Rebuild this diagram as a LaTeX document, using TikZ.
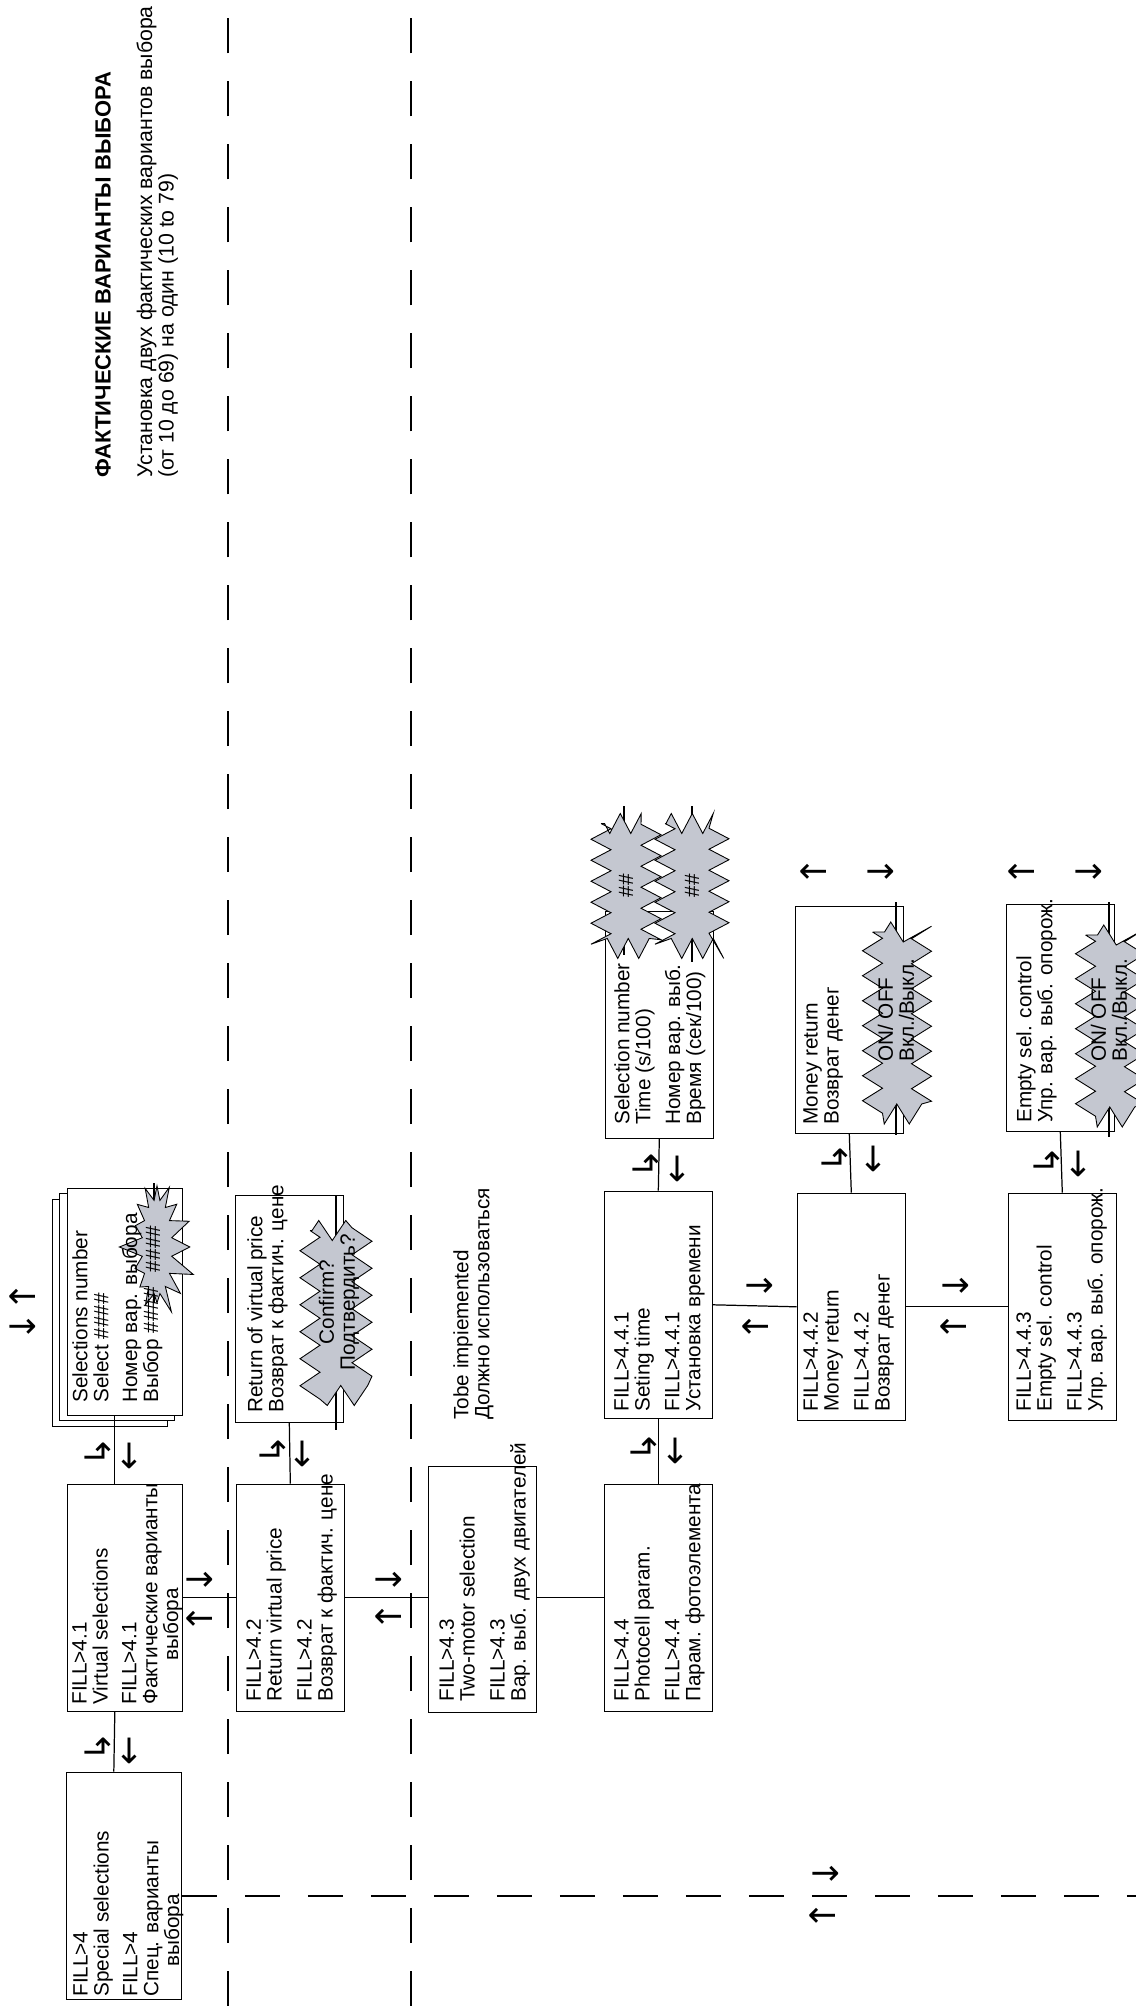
\documentclass[tikz,border=0pt]{standalone}
\usepackage{fontspec}
\setmainfont{Liberation Sans}
\newfontfamily\arrowfont{DejaVu Sans}
\usetikzlibrary{shapes.symbols, decorations.pathmorphing, arrows.meta, positioning}
\definecolor{burstgray}{RGB}{196,199,208}

\begin{document}
\begin{tikzpicture}[x=0.02cm, y=0.02cm,
  box/.style={rectangle, draw, fill=white, line width=0.8pt, minimum width=4.54cm, minimum height=#1, inner sep=0pt, anchor=south west},
  box/.default=2.16cm,
  txt/.style={anchor=north west, align=left, inner sep=0pt, font=\fontsize{11.8}{11.9}\selectfont},
  burst/.style={starburst, draw, fill=burstgray, line width=0.5pt, starburst points=16, starburst point height=0.5cm, random starburst=7, inner sep=0pt},
  jagged/.style={rectangle, draw, fill=burstgray, line width=0.5pt, inner sep=0pt, decorate, decoration={zigzag, segment length=#1, amplitude=0.2cm}},
  jagged/.default=0.52cm,
  bursttxt/.style={align=center, inner sep=0pt, font=\fontsize{11.8}{11.9}\selectfont},
  link/.style={line width=0.7pt},
  sepline/.style={line width=1pt, dash pattern=on 0.7cm off 0.56cm},
  arr/.style={font=\arrowfont\fontsize{20}{20}\selectfont, inner sep=0pt}]

  \useasboundingbox (0,0) rectangle (1136,2006);
  \begin{scope}[shift={(1136,0)}, rotate=90, transform shape]
  % separators
  \draw[sepline] (0,908) -- (2006,908);
  \draw[sepline] (0,725) -- (2006,725);

  % boxes
  \node[box=2.3cm] (fill4) at (6,954) {};
  \node[box=2.3cm] (fill41) at (294,953) {};
  \node[box=2.3cm] (selstack3) at (579,968) {};
  \node[box=2.3cm] (selstack2) at (585,961) {};
  \node[box=2.3cm] (selbox) at (590,953) {};
  \node[box] (fill42) at (294,791) {};
  \node[box] (retbox) at (583,792) {};
  \node[box, minimum width=4.92cm] (fill43) at (293,599) {};
  \node[box] (fill44) at (294,423) {};
  \node[box] (fill441) at (587,423) {};
  \node[box] (timebox) at (867,422) {};
  \node[box] (fill442) at (585,230) {};
  \node[box] (moneybox) at (872,232) {};
  \node[box] (fill443) at (585,19) {};
  \node[box] (emptybox) at (874,21) {};

  % value markers
  \draw[link] (703,982) -- (823,982);
  \draw[link] (576,800) -- (810,800);
  \draw[link] (1051,512) -- (1200,512);
  \draw[link] (1044,444) -- (1200,444);
  \draw[link] (871,240) -- (1104,240);
  \draw[link] (869,27) -- (1104,27);
  \node[burst, minimum width=2.9cm, minimum height=1.6cm] (selburst) at (759,979) {};
  \node[jagged=0.54cm, minimum width=3.3cm, minimum height=1.04cm] (confirmburst) at (693,800) {};
  \node[jagged=0.42cm, minimum width=2.5cm, minimum height=1cm] (timeburst1) at (1120,510) {};
  \node[jagged=0.42cm, minimum width=2.5cm, minimum height=1.08cm] (timeburst2) at (1120,444) {};
  \node[jagged=0.5cm, minimum width=3.64cm, minimum height=0.98cm] (moneyburst) at (983,239) {};
  \node[jagged=0.5cm, minimum width=3.64cm, minimum height=0.98cm] (emptyburst) at (980,26) {};
  \node[bursttxt] (seltag) at (757,983) {\#\#\#\#};
  \node[bursttxt] (confirmtxt) at (704,797) {Confirm?\\Подтвердить?};
  \node[bursttxt] (timetag1) at (1120,510) {\#\#};
  \node[bursttxt] (timetag2) at (1120,444) {\#\#};
  \node[bursttxt, align=left, anchor=west] (moneyon) at (944,240) {ON/ OFF\\Вкл./Выкл.};
  \node[bursttxt, align=left, anchor=west] (emptyon) at (944,27) {ON/ OFF\\Вкл./Выкл.};

  % box texts
  \node[txt] (fill4txt) at (9,1063) {FILL>4\\Special selections\\[0.16cm]FILL>4\\Спец. варианты\\\hspace*{0.6cm}выбора};
  \node[txt] (fill41txt) at (301,1064) {FILL>4.1\\Virtual selections\\[0.16cm]FILL>4.1\\Фактические варианты\\\hspace*{0.88cm}выбора};
  \node[txt] (seltxt) at (603,1064) {Selections number\\Select \#\#\#\#\\[0.16cm]Номер вар. выбора\\Выбор \#\#\#\#};
  \node[txt] (fill42txt) at (304,890) {FILL>4.2\\Return virtual price\\[0.18cm]FILL>4.2\\Возврат к фактич. цене};
  \node[txt] (rettxt) at (593,889) {Return of virtual price\\Возврат к фактич. цене};
  \node[txt] (fill43txt) at (304,697) {FILL>4.3\\Two-motor selection\\[0.18cm]FILL>4.3\\Вар. выб. двух двигателей};
  \node[txt] (tobetxt) at (586,683) {Tobe impiemented\\Должно использоваться};
  \node[txt] (fill44txt) at (304,522) {FILL>4.4\\Photocell param.\\[0.18cm]FILL>4.4\\Парам. фотоэлемента};
  \node[txt] (fill441txt) at (594,522) {FILL>4.4.1\\Seting time\\[0.18cm]FILL>4.4.1\\Установка времени};
  \node[txt] (timetxt) at (881,522) {Selection number\\Time (s/100)\\[0.18cm]Номер вар. выб.\\Время (сек/100)};
  \node[txt] (fill442txt) at (594,333) {FILL>4.4.2\\Money return\\[0.18cm]FILL>4.4.2\\Возврат денег};
  \node[txt] (moneytxt) at (881,333) {Money return\\Возврат денег};
  \node[txt] (fill443txt) at (594,120) {FILL>4.4.3\\Empty sel. control\\[0.18cm]FILL>4.4.3\\Упр. вар. выб. опорож.};
  \node[txt] (emptytxt) at (883,120) {Empty sel. control\\Упр. вар. выб. опорож.};

  % links
  \draw[link] (fill4.5) -- (fill41.175);
  \draw[link] (fill41.5) -- (selbox.175);
  \draw[link] (fill41.south) -- (fill42.north);
  \draw[link] (fill42.east) -- (retbox.west);
  \draw[link] (fill42.south) -- (fill42.south |- fill43.north);
  \draw[link] (fill44.north |- fill43.south) -- (fill44.north);
  \draw[link] (fill44.east) -- (fill441.west);
  \draw[link] (fill441.east) -- (timebox.west);
  \draw[link] (fill441.south) -- (fill442.north);
  \draw[link] (fill442.east) -- (moneybox.west);
  \draw[link] (fill442.south) -- (fill443.north);
  \draw[link] (fill443.east) -- (emptybox.west);
  \coordinate (pagebottom) at (110,0);
  \draw[sepline] (pagebottom |- fill4.south) -- (pagebottom);

  % key arrows
  \node[arr] (enterA) at (259,1038) {↳};
  \node[arr] (backA) at (255,1005) {←};
  \node[arr] (enterB) at (554,1038) {↳};
  \node[arr] (backB) at (550,1005) {←};
  \node[arr] (nextC) at (426,936) {↓};
  \node[arr] (prevC) at (387,936) {↑};
  \node[arr] (enterD) at (556,863) {↳};
  \node[arr] (backD) at (552,832) {←};
  \node[arr] (nextE) at (426,747) {↓};
  \node[arr] (prevE) at (389,747) {↑};
  \node[arr] (enterG) at (559,492) {↳};
  \node[arr] (backG) at (555,459) {←};
  \node[arr] (enterH) at (842,490) {↳};
  \node[arr] (backH) at (837,457) {←};
  \node[arr] (nextI) at (720,376) {↓};
  \node[arr] (prevI) at (679,380) {↑};
  \node[arr] (enterJ) at (848,301) {↳};
  \node[arr] (backJ) at (847,261) {←};
  \node[arr] (nextK) at (720,180) {↓};
  \node[arr] (prevK) at (679,182) {↑};
  \node[arr] (enterL) at (845,89) {↳};
  \node[arr] (backL) at (842,56) {←};
  \node[arr] (nextN) at (132,310) {↓};
  \node[arr] (prevN) at (90,313) {↑};
  \node[arr] (selup) at (709,1113) {↑};
  \node[arr] (seldown) at (679,1113) {↓};
  \node[arr] (moneyup) at (1134,322) {↑};
  \node[arr] (moneydown) at (1134,255) {↓};
  \node[arr] (emptyup) at (1134,114) {↑};
  \node[arr] (emptydown) at (1134,47) {↓};

  % Header
  \node[txt, font=\fontsize{12.1}{12.2}\selectfont] (header) at (1528,1041) {{\fontsize{12.5}{12.5}\selectfont\bfseries ФАКТИЧЕСКИЕ ВАРИАНТЫ ВЫБОРА}\\[0.4cm]Установка двух фактических вариантов выбора\\(от 10 до 69) на один (10 to 79)};
  \end{scope}
\end{tikzpicture}
\end{document}
